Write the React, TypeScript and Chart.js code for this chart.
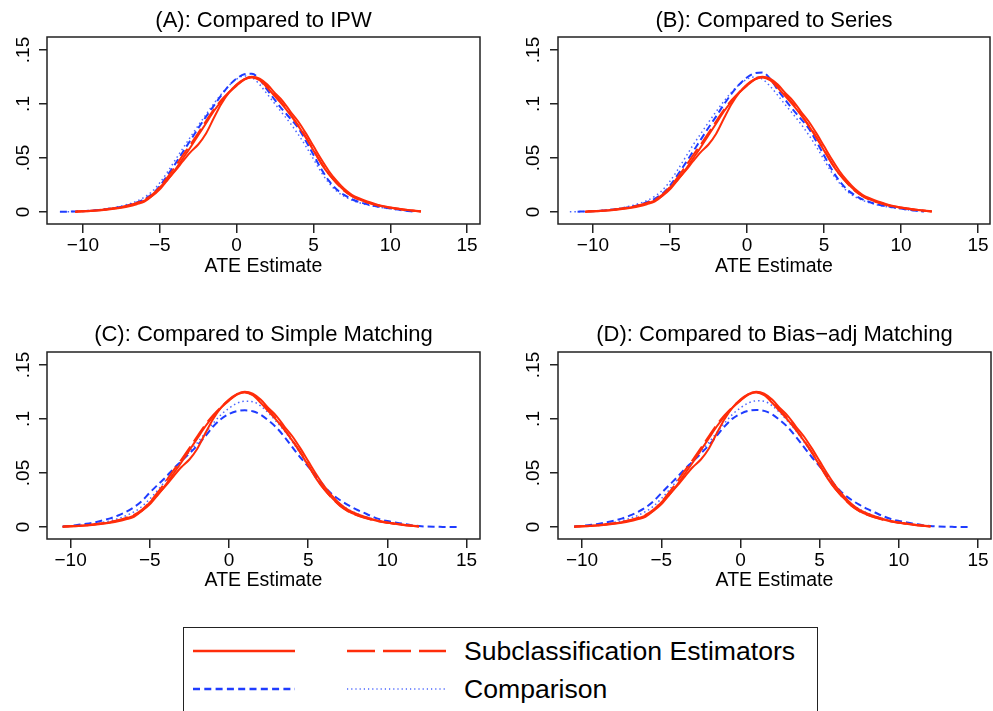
import React, { useEffect, useRef } from "react";
import { Chart, registerables } from "chart.js";

Chart.register(...registerables);

const FONT = '"Liberation Sans", Arial, Helvetica, sans-serif';

// ATE estimate grid (x values of the density curves)
const ATE = [
  -11.5, -11, -10.5, -10, -9.5, -9, -8.5, -8, -7.5, -7,
  -6.5, -6, -5.5, -5, -4.5, -4, -3.5, -3, -2.5, -2,
  -1.5, -1, -0.5, 0, 0.5, 1, 1.5, 2, 2.5, 3,
  3.5, 4, 4.5, 5, 5.5, 6, 6.5, 7, 7.5, 8,
  8.5, 9, 9.5, 10, 10.5, 11, 11.5, 12, 12.5, 13,
  13.5, 14, 14.5,
];

// Subclassification estimators (same in every panel)
const SUBCLASS_SOLID_1 = [
  null, null, 0.0003, 0.0006, 0.001, 0.0015, 0.0022, 0.003, 0.004, 0.0053,
  0.0072, 0.0095, 0.015, 0.0228, 0.030, 0.038, 0.047, 0.0555, 0.0625, 0.0725,
  0.0865, 0.1, 0.1105, 0.118, 0.123, 0.1252, 0.1235, 0.118, 0.11, 0.1027,
  0.093, 0.084, 0.073, 0.061, 0.049, 0.038, 0.029, 0.0215, 0.016, 0.0125,
  0.0097, 0.0075, 0.0055, 0.0042, 0.0032, 0.0022, 0.0013, 0.0006, null, null,
  null, null, null,
];
const SUBCLASS_SOLID_2 = [
  null, null, 0.0003, 0.0006, 0.001, 0.0016, 0.0024, 0.0033, 0.0045, 0.006,
  0.008, 0.0105, 0.0148, 0.021, 0.0296, 0.039, 0.0495, 0.06, 0.071, 0.082,
  0.093, 0.1025, 0.1105, 0.117, 0.1225, 0.1245, 0.122, 0.115, 0.107, 0.099,
  0.09, 0.08, 0.069, 0.057, 0.045, 0.035, 0.027, 0.02, 0.015, 0.0115,
  0.009, 0.007, 0.0052, 0.004, 0.003, 0.002, 0.0012, 0.0005, null, null,
  null, null, null,
];
const SUBCLASS_DASH = [
  null, null, 0.0003, 0.0006, 0.0011, 0.0017, 0.0025, 0.0035, 0.0047, 0.0063,
  0.0085, 0.0112, 0.016, 0.023, 0.032, 0.042, 0.0525, 0.0625, 0.073, 0.084,
  0.0945, 0.1035, 0.111, 0.1175, 0.1228, 0.125, 0.1225, 0.1165, 0.1085, 0.1,
  0.0905, 0.0805, 0.0695, 0.0575, 0.0455, 0.0352, 0.0268, 0.0198, 0.0148, 0.0113,
  0.0088, 0.0068, 0.0051, 0.0039, 0.0029, 0.0019, 0.0011, 0.0004, null, null,
  null, null, null,
];

// Comparison estimators
const IPW_DASH = [
  0.0002, 0.0003, 0.0005, 0.0008, 0.0012, 0.0018, 0.0026, 0.0036, 0.0049, 0.0065,
  0.0088, 0.012, 0.0165, 0.024, 0.034, 0.0445, 0.0555, 0.0665, 0.0775, 0.088,
  0.098, 0.108, 0.117, 0.1235, 0.1275, 0.128, 0.1225, 0.113, 0.1035, 0.0945,
  0.0865, 0.078, 0.066, 0.053, 0.04, 0.029, 0.021, 0.0158, 0.0118, 0.0092,
  0.0071, 0.0056, 0.0044, 0.0033, 0.0022, 0.0012, 0.0005, null, null, null,
  null, null, null,
];
const IPW_DOT = [
  null, 0.0003, 0.0005, 0.0008, 0.0013, 0.002, 0.0029, 0.004, 0.0055, 0.0075,
  0.01, 0.0138, 0.019, 0.027, 0.037, 0.048, 0.059, 0.0695, 0.08, 0.09,
  0.1, 0.109, 0.117, 0.123, 0.126, 0.1245, 0.118, 0.109, 0.1, 0.091,
  0.082, 0.072, 0.061, 0.049, 0.037, 0.027, 0.0195, 0.0145, 0.011, 0.0085,
  0.0066, 0.0052, 0.004, 0.003, 0.002, 0.0011, 0.0004, null, null, null,
  null, null, null,
];
const SERIES_DASH = [
  null, 0.0003, 0.0005, 0.0008, 0.0012, 0.0018, 0.0026, 0.0036, 0.0049, 0.0066,
  0.009, 0.0122, 0.0168, 0.0245, 0.0345, 0.045, 0.056, 0.067, 0.078, 0.0885,
  0.0995, 0.1095, 0.118, 0.1245, 0.1285, 0.1292, 0.1235, 0.113, 0.1035, 0.0945,
  0.0862, 0.0775, 0.0655, 0.0525, 0.0395, 0.0288, 0.0208, 0.0156, 0.0117, 0.0091,
  0.007, 0.0055, 0.0043, 0.0032, 0.0021, 0.0011, 0.0004, null, null, null,
  null, null, null,
];
const SERIES_DOT = [
  0.0002, 0.0003, 0.0005, 0.0008, 0.0013, 0.002, 0.003, 0.0042, 0.0058, 0.0079,
  0.0105, 0.0145, 0.02, 0.0285, 0.039, 0.0505, 0.062, 0.0725, 0.083, 0.093,
  0.1025, 0.111, 0.118, 0.123, 0.125, 0.123, 0.1165, 0.108, 0.099, 0.0905,
  0.0815, 0.0715, 0.0605, 0.0485, 0.0365, 0.0268, 0.0193, 0.0143, 0.0108, 0.0084,
  0.0065, 0.0051, 0.0039, 0.0029, 0.0019, 0.001, 0.0004, null, null, null,
  null, null, null,
];
const SIMPLE_DASH = [
  null, null, 0.0005, 0.001, 0.002, 0.003, 0.0043, 0.006, 0.008, 0.0107,
  0.014, 0.0183, 0.024, 0.0318, 0.039, 0.046, 0.054, 0.061, 0.068, 0.0755,
  0.084, 0.093, 0.1, 0.1045, 0.1072, 0.108, 0.1072, 0.104, 0.0985, 0.092,
  0.0835, 0.074, 0.0645, 0.056, 0.047, 0.038, 0.0305, 0.025, 0.0205, 0.0165,
  0.0133, 0.01, 0.0073, 0.0055, 0.0042, 0.003, 0.0017, 0.0009, 0.0004, 0.0002,
  0.0001, 0, 0,
];
const SIMPLE_DOT = [
  null, null, 0.0004, 0.0008, 0.0014, 0.0021, 0.003, 0.0042, 0.0058, 0.0078,
  0.0105, 0.014, 0.019, 0.026, 0.034, 0.043, 0.052, 0.061, 0.0695, 0.078,
  0.087, 0.096, 0.104, 0.11, 0.1145, 0.1165, 0.116, 0.112, 0.1055, 0.0975,
  0.089, 0.079, 0.068, 0.0565, 0.0455, 0.036, 0.028, 0.0215, 0.0165, 0.013,
  0.01, 0.0078, 0.006, 0.0045, 0.0032, 0.0021, 0.0012, 0.0005, null, null,
  null, null, null,
];
const BIASADJ_DASH = [
  null, null, 0.0005, 0.001, 0.0019, 0.0029, 0.0042, 0.0058, 0.0078, 0.0105,
  0.0138, 0.018, 0.0237, 0.0313, 0.0388, 0.046, 0.0538, 0.0608, 0.068, 0.0757,
  0.0843, 0.0932, 0.1003, 0.1048, 0.1075, 0.1083, 0.1075, 0.1043, 0.0988, 0.0922,
  0.0836, 0.0742, 0.0648, 0.0562, 0.0472, 0.0382, 0.0307, 0.0252, 0.0207, 0.0167,
  0.0134, 0.0101, 0.0074, 0.0056, 0.0042, 0.003, 0.0017, 0.0009, 0.0004, 0.0002,
  0.0001, 0, 0,
];
const BIASADJ_DOT = [
  null, null, 0.0004, 0.0008, 0.0014, 0.0021, 0.003, 0.0042, 0.0058, 0.0079,
  0.0106, 0.0142, 0.0192, 0.0262, 0.0342, 0.0432, 0.0522, 0.0612, 0.0698, 0.0783,
  0.0873, 0.0963, 0.1043, 0.1103, 0.1148, 0.1168, 0.1163, 0.1123, 0.1057, 0.0977,
  0.0891, 0.0791, 0.0681, 0.0566, 0.0456, 0.036, 0.028, 0.0215, 0.0165, 0.013,
  0.01, 0.0078, 0.006, 0.0045, 0.0032, 0.0021, 0.0012, 0.0005, null, null,
  null, null, null,
];

const PANEL_TITLES = [
  "(A): Compared to IPW",
  "(B): Compared to Series",
  "(C): Compared to Simple Matching",
  "(D): Compared to Bias\u2212adj Matching",
];
const X_TICKS = [-10, -5, 0, 5, 10, 15];
const X_TICK_LABELS = ["\u221210", "\u22125", "0", "5", "10", "15"];
const Y_TICKS = [0, 0.05, 0.1, 0.15];
const Y_TICK_LABELS = ["0", ".05", ".1", ".15"];
const X_TITLE = "ATE Estimate";
const LEGEND_LABELS = ["Subclassification Estimators", "Comparison"];

const COMPARISONS = [
  [IPW_DASH, IPW_DOT],
  [SERIES_DASH, SERIES_DOT],
  [SIMPLE_DASH, SIMPLE_DOT],
  [BIASADJ_DASH, BIASADJ_DOT],
];

const RED = "#ff2d0a";
const BLUE = "#1f3cff";
const BLUE_LIGHT = "#4a66ff";

// layout of each panel (pixels)
const LAYOUT = [
  { left: 0, top: 0, w: 496, yW: 47, padR: 16, xMin: -12.34, xMax: 15.84, tTop: 7.3, tBot: 3.3, xH: 76, xTB: 22, yPad: 2.5 },
  { left: 496, top: 0, w: 497, yW: 62, padR: 3, xMin: -12.27, xMax: 15.78, tTop: 7.3, tBot: 3.3, xH: 76, xTB: 22, yPad: 3.5 },
  { left: 0, top: 310, w: 496, yW: 47, padR: 16, xMin: -11.49, xMax: 15.85, tTop: 11.8, tBot: 3.8, xH: 71, xTB: 18, yPad: 2.5 },
  { left: 496, top: 310, w: 497, yW: 62, padR: 2, xMin: -11.52, xMax: 15.82, tTop: 11.8, tBot: 3.8, xH: 71, xTB: 18, yPad: 3.5 },
];
const H = 300;

function toPoints(ys: (number | null)[]) {
  return ATE.map((x, i) => ({ x, y: ys[i] })).filter((p) => p.y !== null);
}

const framePlugin = {
  id: "frame",
  afterDraw(chart: any) {
    const { ctx, chartArea: a } = chart;
    ctx.save();
    ctx.strokeStyle = "#222";
    ctx.lineWidth = 1.5;
    ctx.strokeRect(a.left, a.top, a.right - a.left, a.bottom - a.top);
    ctx.restore();
  },
};

function Panel({ idx }: { idx: number }) {
  const ref = useRef<HTMLCanvasElement>(null);
  const L = LAYOUT[idx];
  useEffect(() => {
    const [cmpDash, cmpDot] = COMPARISONS[idx];
    const line = (data: any, color: string, width: number, dash: number[]) => ({
      data: toPoints(data),
      borderColor: color,
      borderWidth: width,
      borderDash: dash,
      pointRadius: 0,
      fill: false,
      cubicInterpolationMode: "monotone" as const,
    });
    const chart = new Chart(ref.current!, {
      type: "line",
      data: {
        datasets: [
          line(SUBCLASS_SOLID_1, RED, 2, []),
          line(SUBCLASS_SOLID_2, RED, 2, []),
          line(SUBCLASS_DASH, RED, 2, [18, 6]),
          line(cmpDash, BLUE, 2, [7, 4]),
          line(cmpDot, BLUE_LIGHT, 1.5, [1.5, 3]),
        ],
      },
      options: {
        animation: false,
        responsive: false,
        devicePixelRatio: 1,
        layout: { padding: { left: 0, right: L.padR, top: 0, bottom: 0 } },
        plugins: {
          legend: { display: false },
          tooltip: { enabled: false },
          title: {
            display: true,
            text: PANEL_TITLES[idx],
            fullSize: false,
            color: "#000",
            font: { family: FONT, size: 22, weight: "normal" },
            padding: { top: L.tTop, bottom: L.tBot },
          },
        },
        scales: {
          x: {
            type: "linear",
            min: L.xMin,
            max: L.xMax,
            afterBuildTicks: (s: any) => {
              s.ticks = X_TICKS.map((v) => ({ value: v }));
            },
            afterFit: (s: any) => {
              s.height = L.xH;
            },
            grid: { drawOnChartArea: false, drawTicks: true, tickLength: 9, color: "#222", lineWidth: 1.5 },
            border: { display: false },
            ticks: {
              color: "#000",
              padding: 1,
              maxRotation: 0,
              autoSkip: false,
              font: { family: FONT, size: 19 },
              callback: (v: any) => {
                const i = X_TICKS.indexOf(Number(v));
                return i >= 0 ? X_TICK_LABELS[i] : "";
              },
            },
            title: {
              display: true,
              text: X_TITLE,
              color: "#000",
              font: { family: FONT, size: 19.5 },
              padding: { top: 0, bottom: L.xTB },
            },
          },
          y: {
            type: "linear",
            min: -0.0111,
            max: 0.162,
            afterBuildTicks: (s: any) => {
              s.ticks = Y_TICKS.map((v) => ({ value: v }));
            },
            afterFit: (s: any) => {
              s.width = L.yW;
            },
            grid: { drawOnChartArea: false, drawTicks: true, tickLength: 8, color: "#222", lineWidth: 1.5 },
            border: { display: false },
            ticks: {
              color: "#000",
              padding: L.yPad,
              minRotation: 90,
              maxRotation: 90,
              crossAlign: "center",
              autoSkip: false,
              font: { family: FONT, size: 19 },
              callback: (v: any) => {
                const i = Y_TICKS.findIndex((t) => Math.abs(t - Number(v)) < 1e-9);
                return i >= 0 ? Y_TICK_LABELS[i] : "";
              },
            },
          },
        },
      },
      plugins: [framePlugin],
    } as any);
    return () => chart.destroy();
  }, [idx]);
  return (
    <canvas
      ref={ref}
      width={L.w}
      height={H}
      style={{ position: "absolute", left: L.left, top: L.top, width: L.w, height: H }}
    />
  );
}

function Legend() {
  const textStyle: React.CSSProperties = {
    position: "absolute",
    left: 463 - 183,
    fontFamily: FONT,
    fontSize: 26.6,
    lineHeight: "30px",
    color: "#000",
    whiteSpace: "nowrap",
  };
  return (
    <div
      style={{
        position: "absolute",
        left: 183,
        top: 627,
        width: 635,
        height: 110,
        border: "1.5px solid #222",
        boxSizing: "border-box",
        background: "#fff",
      }}
    >
      <svg width={635} height={110} style={{ position: "absolute", left: -1.5, top: -1.5 }}>
        <line x1={10} y1={24} x2={112} y2={24} stroke={RED} strokeWidth={2.5} />
        <line x1={164} y1={24} x2={263} y2={24} stroke={RED} strokeWidth={2.5} strokeDasharray="28 8" />
        <line x1={10} y1={62} x2={112} y2={62} stroke={BLUE} strokeWidth={2.5} strokeDasharray="7 4.3" />
        <line x1={164} y1={62} x2={263} y2={62} stroke={BLUE_LIGHT} strokeWidth={1.5} strokeDasharray="1.2 3" />
      </svg>
      <div style={{ ...textStyle, top: 24 - 15 - 1.5 }}>{LEGEND_LABELS[0]}</div>
      <div style={{ ...textStyle, top: 62 - 15 - 1.5 }}>{LEGEND_LABELS[1]}</div>
    </div>
  );
}

export default function App() {
  return (
    <div
      style={{
        position: "absolute",
        left: 0,
        top: 0,
        width: 993,
        height: 711,
        overflow: "hidden",
        background: "#fff",
      }}
    >
      {[0, 1, 2, 3].map((i) => (
        <Panel key={i} idx={i} />
      ))}
      <Legend />
    </div>
  );
}
